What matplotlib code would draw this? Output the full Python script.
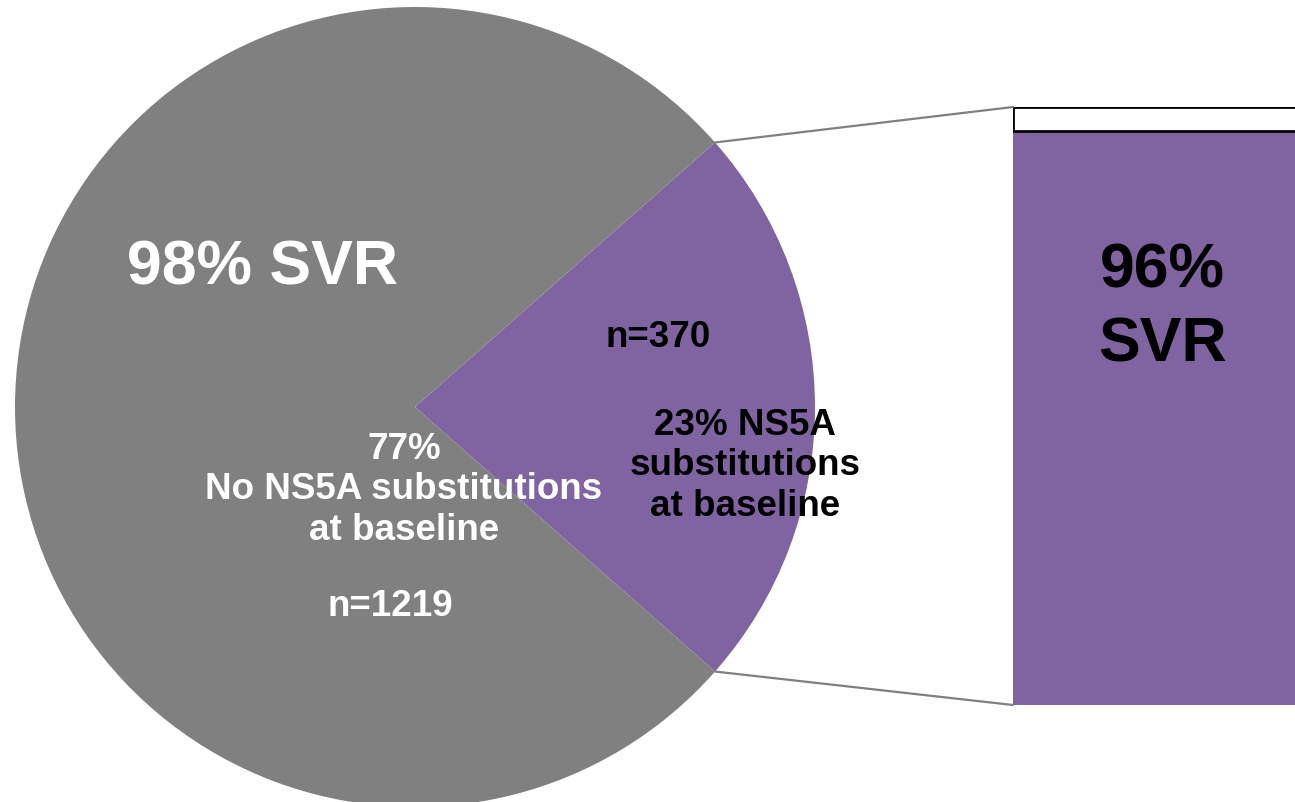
import matplotlib
matplotlib.use("Agg")
import matplotlib.pyplot as plt
from matplotlib.patches import ConnectionPatch
import numpy as np

plt.rcParams['font.family'] = ['Liberation Sans', 'DejaVu Sans']

# Baseline NS5A substitution split (share of patients)
pie_labels = ["NS5A substitutions", "No NS5A substitutions"]
pie_shares = [23, 77]
pie_colors = ["#8064A2", "#808080"]

# SVR among patients with NS5A substitutions
bar_parts = ["SVR", "No SVR"]
bar_values = [96, 4]
bar_colors = ["#8064A2", "white"]

W, H = 1295, 803
fig = plt.figure(figsize=(W / 100, H / 100), dpi=100)
ax = fig.add_axes([0, 0, 1, 1])

cx, cy, r = 415, H - 408, 400
start = -pie_shares[0] / 100 * 360 / 2
wedges, _ = ax.pie(pie_shares, colors=pie_colors, startangle=start,
                   center=(cx, cy), radius=r, frame=True,
                   wedgeprops=dict(linewidth=0))
ax.set_xlim(0, W)
ax.set_ylim(0, H)
ax.set_aspect('equal')
ax.axis('off')

# Stacked bar for the zoomed-in wedge
bx0, by0, by1 = 1013, H - 706, H - 108
bax = fig.add_axes([bx0 / W, by0 / H, 400 / W, (by1 - by0) / H])
bottom = 0
for val, col in zip(bar_values, bar_colors):
    ec = 'black' if col == 'white' else col
    lw = 2.0 if col == 'white' else 0
    bax.bar(0, val, bottom=bottom, width=1, color=col, edgecolor=ec,
            linewidth=lw, align='edge')
    bottom += val
bax.set_xlim(0, 1)
bax.set_ylim(0, sum(bar_values))
bax.axis('off')

# Keep the main axes (and its labels) above the bar axes
ax.set_zorder(2)
ax.patch.set_visible(False)

# Connector lines from the wedge edges to the bar corners
w = wedges[0]
for theta, yb in ((w.theta2, sum(bar_values)), (w.theta1, 0)):
    px = cx + r * np.cos(np.radians(theta))
    py = cy + r * np.sin(np.radians(theta))
    con = ConnectionPatch(xyA=(px, py), coordsA=ax.transData,
                          xyB=(0, yb), coordsB=bax.transData,
                          color="#808080", linewidth=1.6)
    fig.add_artist(con)

def T(x, y, s, color, size, ls=1.2):
    ax.text(x, H - y, s, color=color, fontsize=size, fontweight='bold',
            ha='center', va='center', linespacing=ls)

T(262, 268, "98% SVR", "white", 45)
T(404, 490, "77%\nNo NS5A substitutions\nat baseline", "white", 26.5)
T(390, 607, "n=1219", "white", 26.5)
T(658, 338, "n=370", "black", 26.5)
T(745, 466, "23% NS5A\nsubstitutions\nat baseline", "black", 26.5)
T(1162, 308, "96%\nSVR", "black", 45, ls=1.33)

fig.savefig("out.png", dpi=100)
